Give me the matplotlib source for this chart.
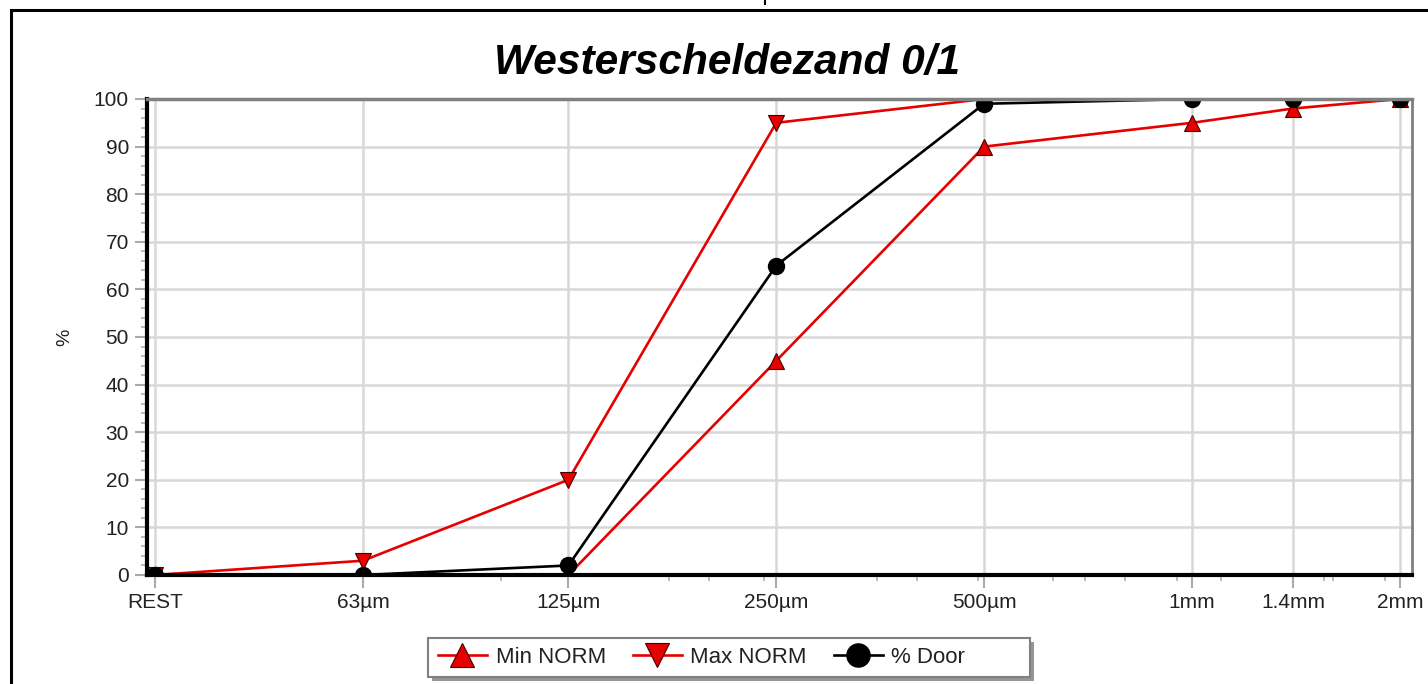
import matplotlib
matplotlib.use("Agg")
import matplotlib.pyplot as plt
from matplotlib.patches import Rectangle
from matplotlib.lines import Line2D

plt.rcParams['font.family'] = ['Liberation Sans', 'DejaVu Sans']

# ---- data ----
sieve_labels = ["REST", "63µm", "125µm", "250µm", "500µm", "1mm", "1.4mm", "2mm"]
sieve_sizes = [31.5, 63, 125, 250, 500, 1000, 1400, 2000]   # µm (REST placed one step below 63)
min_norm = [0, 0, 0, 45, 90, 95, 98, 100]
max_norm = [0, 3, 20, 95, 100, 100, 100, 100]
door = [0, 0, 2, 65, 99, 100, 100, 100]
minor_sizes = [100, 175, 200, 240, 350, 400, 490, 630, 700, 800, 950, 1100, 1550, 1600, 1900]
y_ticks = list(range(0, 101, 10))
title = "Westerscheldezand 0/1"

W, H = 1428, 684
fig = plt.figure(figsize=(W / 100, H / 100), dpi=100)
fig.patch.set_facecolor("white")

ax = fig.add_axes([147 / W, 1 - 575 / H, (1412 - 147) / W, (575 - 99) / H])
ax.set_xscale("log", base=2)
ax.set_xlim(30.67, 2082)
ax.set_ylim(0, 100)

red = "#e60000"
ax.plot(sieve_sizes, min_norm, color=red, lw=1.9, marker="^", ms=11.5,
        markerfacecolor=red, markeredgecolor="#400000", markeredgewidth=0.8,
        label="Min NORM", zorder=3)
ax.plot(sieve_sizes, max_norm, color=red, lw=1.9, marker="v", ms=11.5,
        markerfacecolor=red, markeredgecolor="#400000", markeredgewidth=0.8,
        label="Max NORM", zorder=3)
ax.plot(sieve_sizes, door, color="black", lw=1.9, marker="o", ms=11.5,
        markerfacecolor="black", markeredgecolor="black",
        label="% Door", zorder=4)

ax.set_xticks(sieve_sizes)
ax.set_xticklabels(sieve_labels)
ax.set_xticks(minor_sizes, minor=True)
ax.set_xticklabels([""] * len(minor_sizes), minor=True)
ax.set_yticks(y_ticks)
ax.set_yticks(list(range(0, 101, 2)), minor=True)

ax.grid(True, which="major", color="#d8d8d8", lw=1.8, zorder=0)
ax.set_axisbelow(True)

ax.tick_params(axis="both", which="major", length=9, width=1.5, color="#aaaaaa",
               labelsize=15, labelcolor="#222222", pad=4)
ax.tick_params(axis="both", which="minor", length=4, width=1.2, color="#b0b0b0")

for s in ["left", "bottom"]:
    ax.spines[s].set_color("black")
    ax.spines[s].set_linewidth(3)
ax.spines["top"].set_color("#808080")
ax.spines["top"].set_linewidth(2.5)
ax.spines["right"].set_color("#808080")
ax.spines["right"].set_linewidth(2)
for sp in ax.spines.values():
    sp.set_zorder(5)

ax.set_ylabel("%", fontsize=14, color="#222222")
ax.yaxis.set_label_coords((73 - 147) / (1412 - 147), 0.5)

fig.text(727 / W, 1 - 63 / H, title, fontsize=30.5, fontweight="bold",
         fontstyle="italic", ha="center", va="center", color="black")

# legend box (frame + shadow drawn manually to match the wider box)
bx0, bx1, by0, by1 = 428, 1030, 638, 677
fig.add_artist(Rectangle(((bx0 + 4) / W, 1 - (by1 + 4) / H), (bx1 - bx0) / W, (by1 - by0) / H,
                         transform=fig.transFigure, facecolor="#6a6a6a", edgecolor="none",
                         alpha=0.7, zorder=1))
fig.add_artist(Rectangle((bx0 / W, 1 - by1 / H), (bx1 - bx0) / W, (by1 - by0) / H,
                         transform=fig.transFigure, facecolor="white", edgecolor="#808080",
                         lw=1.5, zorder=2))

handles, labels = ax.get_legend_handles_labels()
leg = fig.legend(handles, labels, loc="center left", bbox_to_anchor=(438 / W, 1 - 657.5 / H),
                 bbox_transform=fig.transFigure, ncol=3, fontsize=16,
                 frameon=False, borderpad=0, borderaxespad=0,
                 handlelength=2.2, handletextpad=0.4, columnspacing=1.2,
                 markerscale=1.45)
leg.set_zorder(3)
for t in leg.get_texts():
    t.set_color("#222222")

# outer frame
fig.add_artist(Rectangle((11 / W, -0.1), 1.2, (1 - 10 / H) + 0.1,
                         transform=fig.transFigure, fill=False,
                         edgecolor="black", lw=2.2))
fig.add_artist(Line2D([765 / W, 765 / W], [1, 1 - 4 / H], transform=fig.transFigure,
                      color="black", lw=1.5))

fig.savefig("out.png", dpi=100, facecolor="white")
